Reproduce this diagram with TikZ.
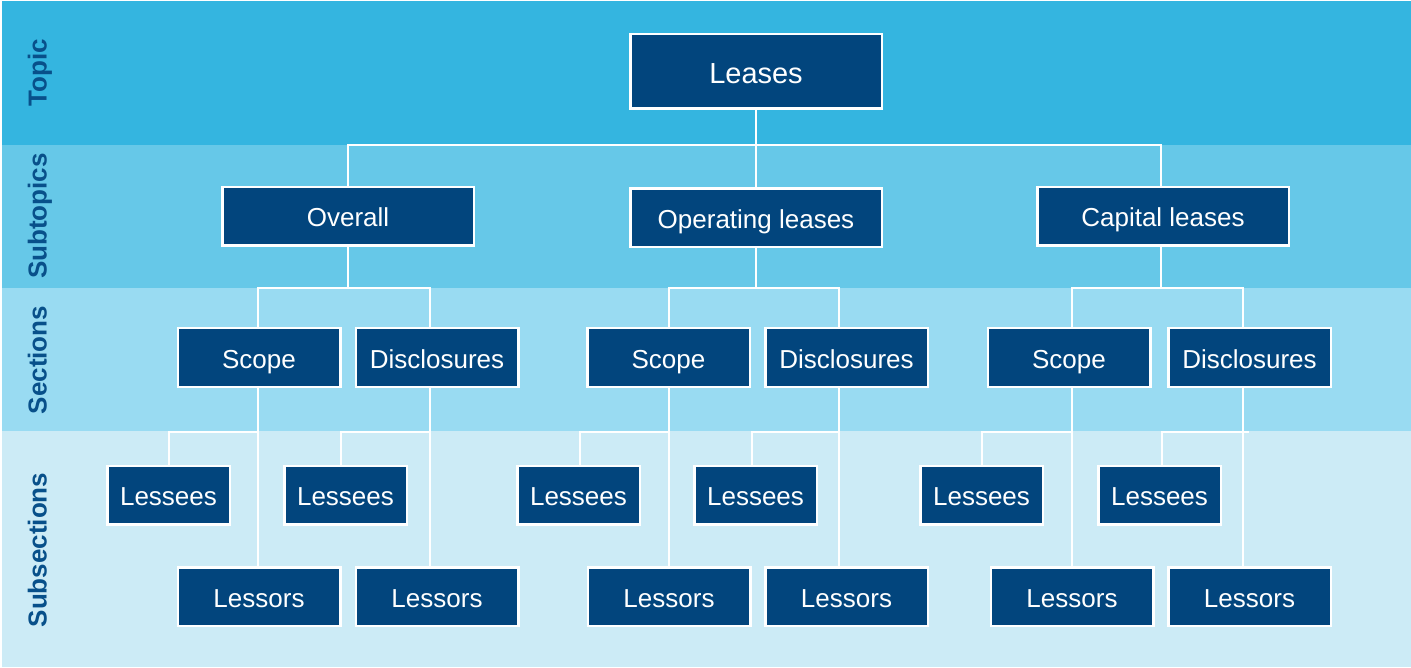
\documentclass[tikz,border=0pt]{standalone}
\usepackage{fontspec}
\setmainfont{Liberation Sans}
\pgfdeclarelayer{bands}
\pgfdeclarelayer{links}
\pgfsetlayers{bands,links,main}
\definecolor{navy}{HTML}{02457D}
\definecolor{labelblue}{HTML}{08508A}
\definecolor{bandTopic}{HTML}{34B5E0}
\definecolor{bandSub}{HTML}{66C8E8}
\definecolor{bandSec}{HTML}{99DBF2}
\definecolor{bandSubsec}{HTML}{CCEBF6}
\begin{document}
\begin{tikzpicture}[x=1pt,y=-1pt,
  box/.style={draw=white, line width=2.5pt, fill=navy, text=white, inner sep=0pt,
    minimum height=58.5pt, text height=21pt, text depth=0pt,
    font=\fontsize{26}{30}\selectfont},
  subbox/.style={box, minimum width=251.5pt},
  secbox/.style={box, minimum width=162.5pt},
  leebox/.style={box, minimum width=122.5pt},
  lorbox/.style={box, minimum width=162.5pt},
  rowlabel/.style={rotate=90, inner sep=0pt, text=labelblue, text height=19pt, text depth=0pt,
    font=\bfseries\fontsize{26}{30}\selectfont},
  link/.style={draw=white, line width=2.5pt}]

\useasboundingbox (0,0) rectangle (1411,668);

% level bands
\begin{pgfonlayer}{bands}
  \fill[white] (0,0) rectangle (1411,668);
  \fill[bandTopic]  (2,1)   rectangle (1411,145);
  \fill[bandSub]    (2,145) rectangle (1411,288);
  \fill[bandSec]    (2,288) rectangle (1411,431);
  \fill[bandSubsec] (2,431) rectangle (1411,667);
\end{pgfonlayer}

% level names
\node[rowlabel] (lblTopic)  at (37,73)  {Topic};
\node[rowlabel] (lblSub)    at (37,216) {Subtopics};
\node[rowlabel] (lblSec)    at (37,360) {Sections};
\node[rowlabel] (lblSubsec) at (37,550) {Subsections};

% topic
\node[box, minimum width=251.5pt, minimum height=74.5pt, text height=27pt, text depth=3.4pt,
      font=\fontsize{29}{34}\selectfont] (leases) at (756,71.5) {Leases};

% subtopics
\node[subbox] (overall)   at (348,216.5)  {Overall};
\node[subbox] (operating) at (756,218)    {Operating leases};
\node[subbox] (capital)   at (1163,216.5) {Capital leases};

% sections
\node[secbox] (scopeA) at (259,357.5)    {Scope};
\node[secbox] (discA)  at (437,357.5)    {Disclosures};
\node[secbox] (scopeB) at (668.5,357.5)  {Scope};
\node[secbox] (discB)  at (846.5,357.5)  {Disclosures};
\node[secbox] (scopeC) at (1069,357.5)   {Scope};
\node[secbox] (discC)  at (1249.5,357.5) {Disclosures};

% subsections
\node[leebox] (lesseeA1) at (168.5,495)  {Lessees};
\node[leebox] (lesseeA2) at (345.5,495)  {Lessees};
\node[leebox] (lesseeB1) at (578.5,495)  {Lessees};
\node[leebox] (lesseeB2) at (755.5,495)  {Lessees};
\node[leebox] (lesseeC1) at (981.5,495)  {Lessees};
\node[leebox] (lesseeC2) at (1159.5,495) {Lessees};

\node[lorbox] (lessorA1) at (259,596.5)    {Lessors};
\node[lorbox] (lessorA2) at (437,596.5)    {Lessors};
\node[lorbox] (lessorB1) at (669,596.5)    {Lessors};
\node[lorbox] (lessorB2) at (846.5,596.5)  {Lessors};
\node[lorbox] (lessorC1) at (1072,596.5)   {Lessors};
\node[lorbox] (lessorC2) at (1249.5,596.5) {Lessors};

\begin{pgfonlayer}{links}
  % topic -> subtopics
  \coordinate (hub) at (756,145);
  \draw[link] (leases.south) -- (hub);
  \draw[link] (overall.north) |- (hub) -| ([xshift=-2pt]capital.north);
  \draw[link] (hub) -- (operating.north);

  % sections -> subsections
  \foreach \sec/\dx/\lee/\edx/\lor in {
      scopeA/-1/lesseeA1/0.5/lessorA1, discA/-7/lesseeA2/-4.5/lessorA2,
      scopeB/0.5/lesseeB1/1.5/lessorB1, discB/-7.5/lesseeB2/-3.5/lessorB2,
      scopeC/3/lesseeC1/0.5/lessorC1, discC/-6.5/lesseeC2/2.5/lessorC2}{
    \coordinate (tr-\sec) at ([xshift=\dx pt]\sec.south);
    \draw[link] (tr-\sec |- \sec.north) -- (tr-\sec |- \lor.north);
    \draw[link] (tr-\sec |- 0,432) -| ([xshift=\edx pt]\lee.north);
  }
  \draw[link] (tr-discC |- 0,432) -- ++(6,0);

  % subtopics -> sections
  \foreach \top/\tdx/\l/\r in {overall/0/scopeA/discA, operating/0/scopeB/discB,
      capital/-2/scopeC/discC}{
    \coordinate (t-\top) at ([xshift=\tdx pt]\top.south);
    \draw[link] (t-\top) -- (t-\top |- 0,288);
    \draw[link] (tr-\l |- \l.north) |- (t-\top |- 0,288) -| (tr-\r |- \r.north);
  }
\end{pgfonlayer}
\end{tikzpicture}
\end{document}
